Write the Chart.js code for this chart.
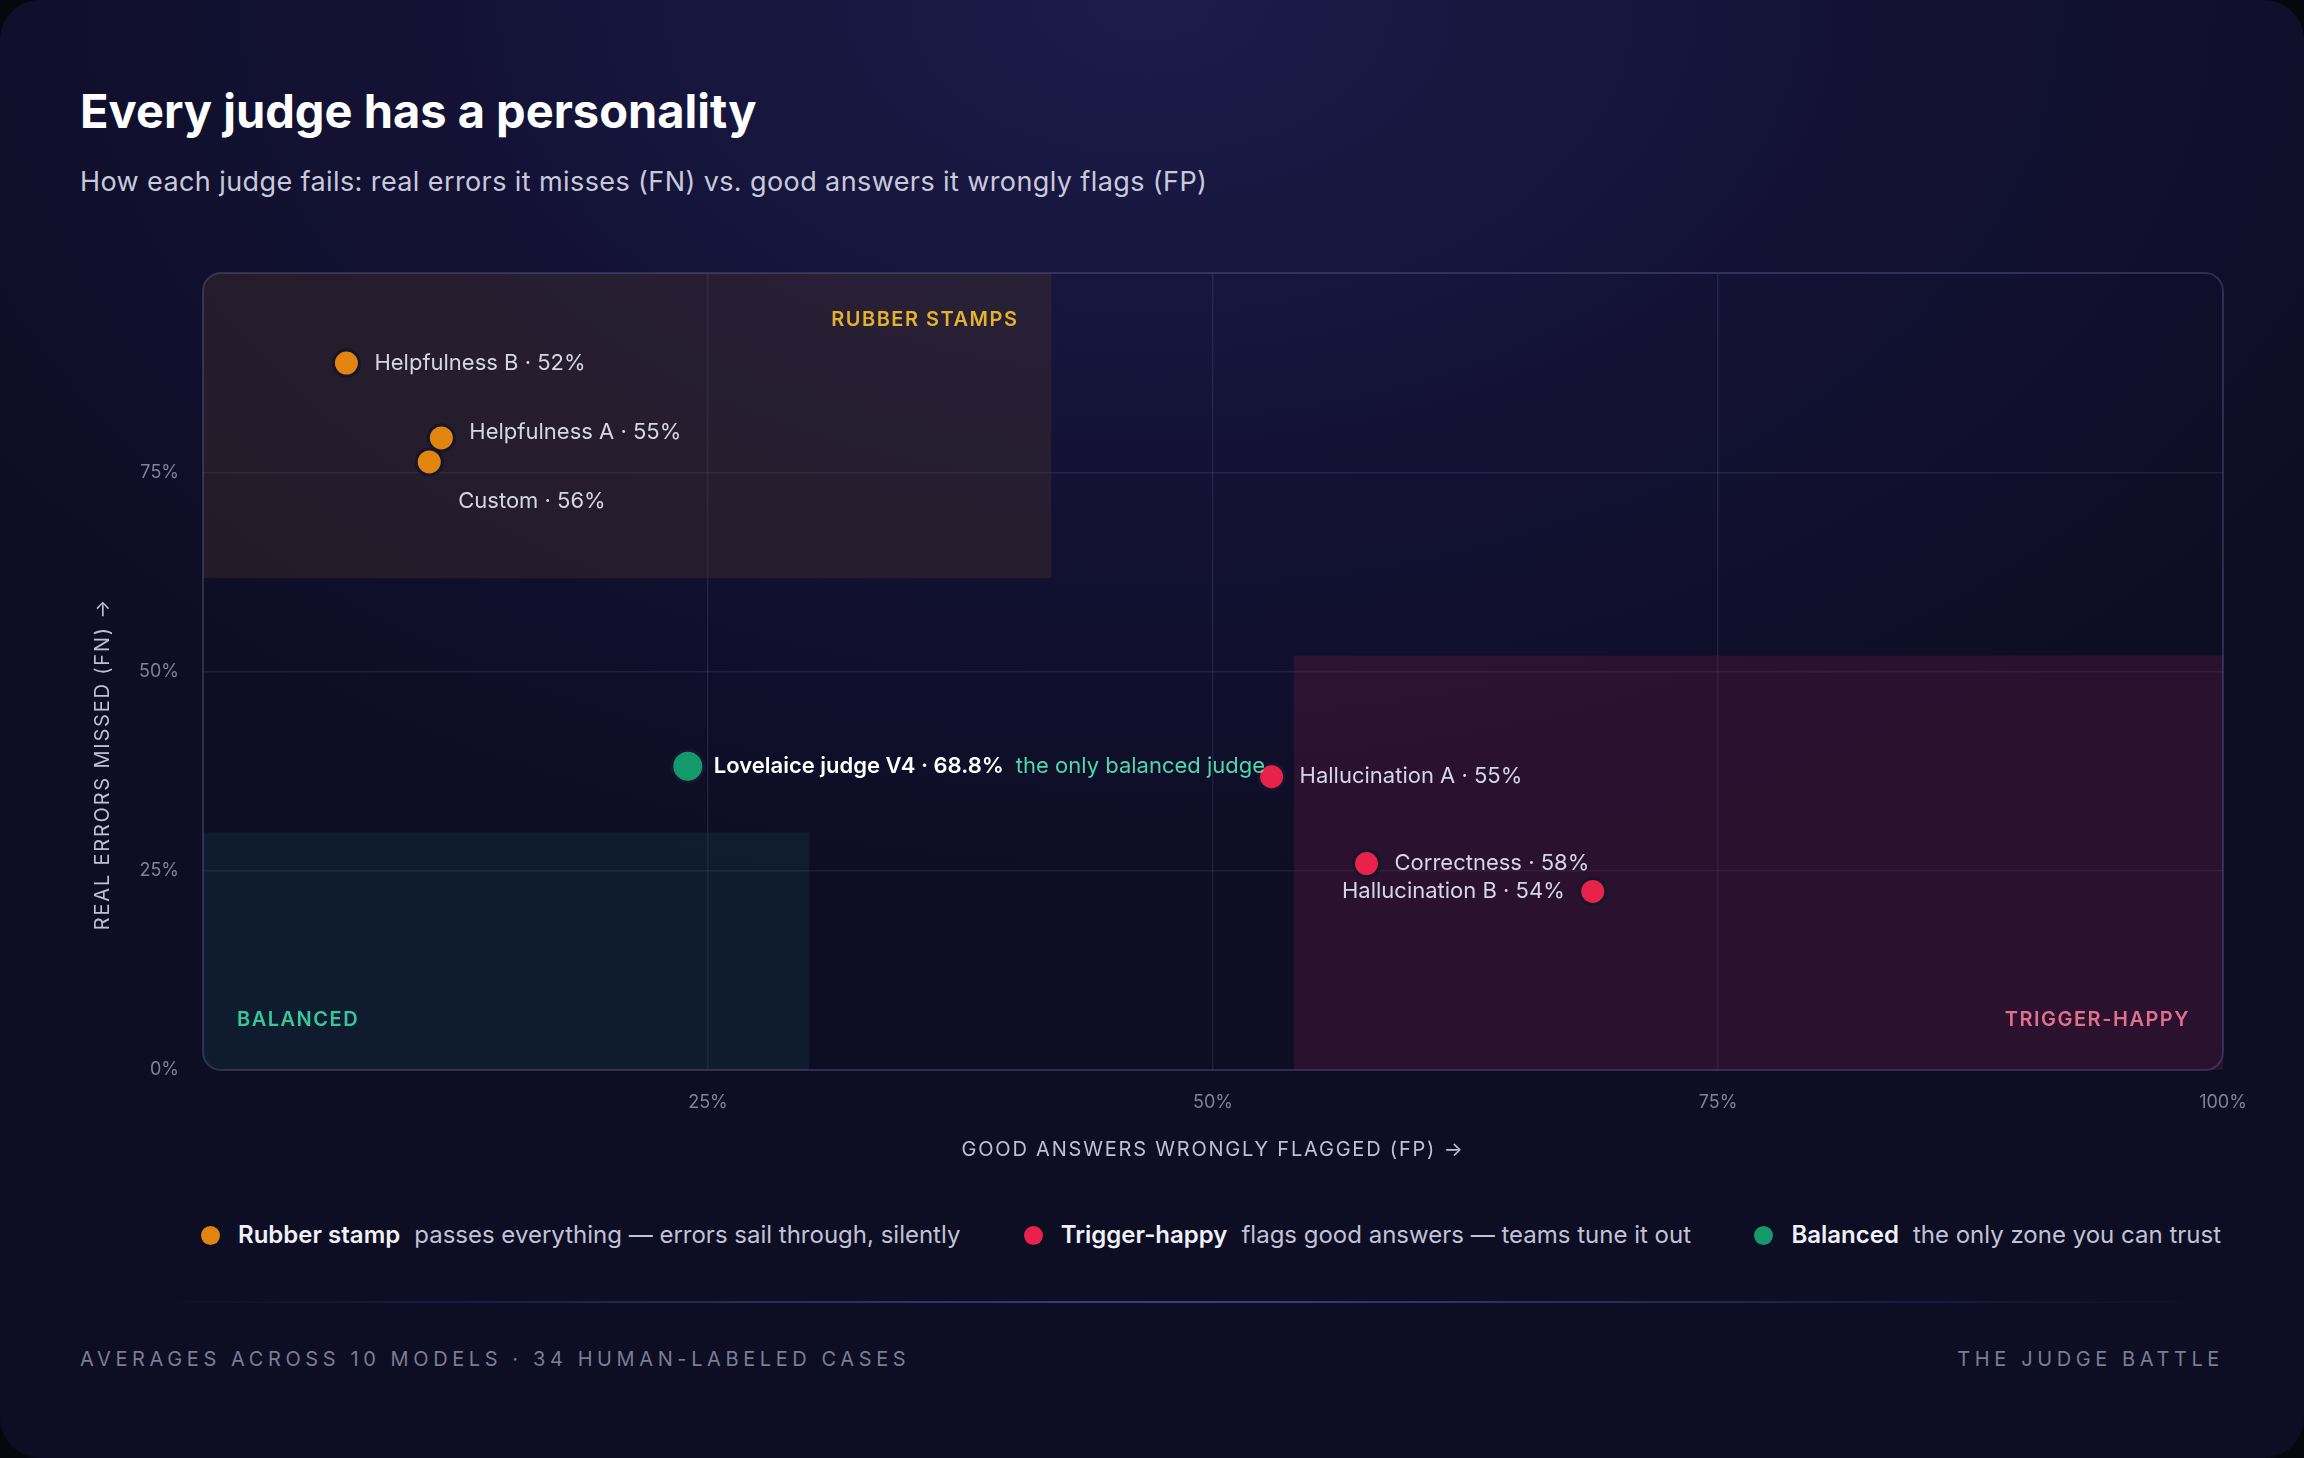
<!DOCTYPE html>
<html><head><meta charset="utf-8">
<script src="https://cdn.jsdelivr.net/npm/chart.js@4"></script>
<style>
html,body{margin:0;padding:0;background:#07070f;width:2304px;height:1458px;overflow:hidden;font-family:Inter,"Noto Sans",sans-serif}
#card{position:absolute;left:0;top:0;width:2304px;height:1458px;border-radius:40px;overflow:hidden;
background:radial-gradient(ellipse 1400px 900px at 1150px 0px,#1d1c4a 0%,#141338 45%,#0d0d24 100%)}
#title{position:absolute;left:80px;top:82px;font-size:47px;font-weight:700;color:#fff;letter-spacing:0px}
#sub{position:absolute;left:80px;top:165px;font-size:27px;color:#c9c9dc;letter-spacing:0.4px}
#wrap{position:absolute;left:0;top:0;width:2304px;height:1180px}
#legend{position:absolute;top:1220px;left:201px;width:2020px;display:flex;justify-content:space-between;font-size:24px;color:#c2c2d6}
#legend span.d{display:inline-block;width:19px;height:19px;border-radius:50%;margin-right:18px;vertical-align:-2px}
#legend b{color:#f0f0f8;margin-right:14px;font-weight:600}
#line{position:absolute;top:1301px;left:150px;width:2060px;height:2px;background:linear-gradient(90deg,transparent,#3a3f8a 50%,transparent)}
.foot{position:absolute;top:1347px;font-size:20px;letter-spacing:4.6px;color:#7c7c95}
</style></head><body>
<div id="card">
<div id="title">Every judge has a personality</div>
<div id="sub">How each judge fails: real errors it misses (FN) vs. good answers it wrongly flags (FP)</div>
<div id="wrap"><canvas id="c"></canvas></div>
<div id="legend">
<div><span class="d" style="background:#e2850f"></span><b>Rubber stamp</b>passes everything — errors sail through, silently</div>
<div><span class="d" style="background:#e8224a"></span><b>Trigger-happy</b>flags good answers — teams tune it out</div>
<div><span class="d" style="background:#14996b"></span><b>Balanced</b>the only zone you can trust</div>
</div>
<div id="line"></div>
<div class="foot" style="left:80px">AVERAGES ACROSS 10 MODELS · 34 HUMAN-LABELED CASES</div>
<div class="foot" style="right:80px">THE JUDGE BATTLE</div>
</div>
<script>
const judges = ["Helpfulness B · 52%","Helpfulness A · 55%","Custom · 56%","Lovelaice judge V4 · 68.8%","Hallucination A · 55%","Correctness · 58%","Hallucination B · 54%"];
const fpRate = [7.1,11.8,11.2,24.0,52.9,57.6,68.8];
const fnRate = [88.7,79.3,76.3,38.1,36.8,25.9,22.4];
const judgeType = ["rubber","rubber","rubber","balanced","trigger","trigger","trigger"];
const xTicks = [0,25,50,75,100];
const yTicks = [0,25,50,75,100];
const xTitle = "GOOD ANSWERS WRONGLY FLAGGED (FP) →";
const yTitle = "REAL ERRORS MISSED (FN) →";
const zones = [
 {name:"RUBBER STAMPS",x0:0,x1:42,y0:61.7,y1:100},
 {name:"BALANCED",x0:0,x1:30,y0:0,y1:29.8},
 {name:"TRIGGER-HAPPY",x0:54,x1:100,y0:0,y1:52}
];
const colors={rubber:"#e2850f",trigger:"#e8224a",balanced:"#14996b"};
const zoneFill={"RUBBER STAMPS":"rgba(80,55,40,0.32)","BALANCED":"rgba(20,70,80,0.28)","TRIGGER-HAPPY":"rgba(110,25,70,0.3)"};
const zoneText={"RUBBER STAMPS":"#e3b22e","BALANCED":"#38c79b","TRIGGER-HAPPY":"#e0708e"};
const place=[[28,0,"left"],[28,-6,"left"],[29,40,"left"],[26,0,"left"],[28,0,"left"],[28,0,"left"],[-28,0,"right"]];

const bgPlugin={id:"bg",beforeDatasetsDraw(ch){
 const {ctx,chartArea:a,scales:{x,y}}=ch;ctx.save();
 zones.forEach(z=>{
  const L=x.getPixelForValue(z.x0),R=x.getPixelForValue(z.x1),T=y.getPixelForValue(z.y1),B=y.getPixelForValue(z.y0);
  ctx.fillStyle=zoneFill[z.name];ctx.beginPath();
  const r=18;
  ctx.roundRect(L,T,R-L,B-T,[z.y1==100&&z.x0==0?r:0,0,0,z.y0==0&&z.x0==0?r:0]);
  ctx.fill();
  ctx.font="600 20px Inter";ctx.letterSpacing="1.5px";ctx.fillStyle=zoneText[z.name];ctx.textBaseline="middle";
  if(z.name=="RUBBER STAMPS"){ctx.textAlign="right";ctx.fillText(z.name,R-33,T+47);}
  else if(z.name=="BALANCED"){ctx.textAlign="left";ctx.fillText(z.name,L+34,B-50);}
  else {ctx.textAlign="right";ctx.fillText(z.name,R-33,B-50);}
 });
 ctx.letterSpacing="0px";
 ctx.strokeStyle="rgba(120,120,170,0.3)";ctx.lineWidth=2;ctx.beginPath();ctx.roundRect(a.left,a.top,a.width,a.height,18);ctx.stroke();
 // axis titles
 ctx.font="20px Inter";ctx.letterSpacing="1.8px";ctx.fillStyle="#c0c0d4";ctx.textAlign="center";ctx.textBaseline="middle";
 ctx.fillText(xTitle,(a.left+a.right)/2,1150);
 ctx.save();ctx.translate(103,764);ctx.rotate(-Math.PI/2);ctx.fillText(yTitle,0,0);ctx.restore();
 ctx.restore();
},afterDatasetsDraw(ch){
 const {ctx,scales:{x,y}}=ch;ctx.save();ctx.textBaseline="middle";
 judges.forEach((t,i)=>{
  const px=x.getPixelForValue(fpRate[i]),py=y.getPixelForValue(fnRate[i]);
  const [dx,dy,al]=place[i];ctx.textAlign=al;
  if(judgeType[i]=="balanced"){
   ctx.font="600 22px Inter";ctx.fillStyle="#ffffff";ctx.fillText(t,px+dx,py+dy);
   const w=ctx.measureText(t).width;ctx.font="22px Inter";ctx.fillStyle="#4fd8b0";ctx.fillText("the only balanced judge",px+dx+w+12,py+dy);
  } else {ctx.font="22px Inter";ctx.fillStyle="#d6d6e6";ctx.fillText(t,px+dx,py+dy);}
 });
 ctx.restore();
}};

new Chart(document.getElementById("c"),{
 type:"scatter",
 data:{datasets:[{data:fpRate.map((v,i)=>({x:v,y:fnRate[i]})),
  backgroundColor:judgeType.map(t=>colors[t]),
  pointRadius:judgeType.map(t=>t=="balanced"?16:13),
  pointHoverRadius:judgeType.map(t=>t=="balanced"?16:13),
  borderColor:"#15152e",borderWidth:3}]},
 options:{responsive:true,maintainAspectRatio:false,animation:false,
  layout:{padding:{top:273,right:81,left:0,bottom:0}},
  plugins:{legend:{display:false},tooltip:{enabled:false}},
  scales:{
   x:{type:"linear",min:0,max:100,afterFit(s){s.height=110;},afterBuildTicks(s){s.ticks=xTicks.map(v=>({value:v}));},
    border:{display:false},grid:{color:"rgba(130,130,180,0.16)",drawTicks:false,lineWidth:c=>(c.tick.value==0||c.tick.value==100)?0:1.5},
    ticks:{padding:22,color:"#80809a",font:{size:18,family:"Inter"},callback:v=>v==0?"":v+"%"}},
   y:{type:"linear",min:0,max:100,afterFit(s){s.width=203;},afterBuildTicks(s){s.ticks=yTicks.map(v=>({value:v}));},
    border:{display:false},grid:{color:"rgba(130,130,180,0.16)",drawTicks:false,lineWidth:c=>(c.tick.value==0||c.tick.value==100)?0:1.5},
    ticks:{padding:24,color:"#80809a",font:{size:18,family:"Inter"},callback:v=>v==100?"":v+"%"}}
  }},
 plugins:[bgPlugin]
});
</script>
</body></html>
